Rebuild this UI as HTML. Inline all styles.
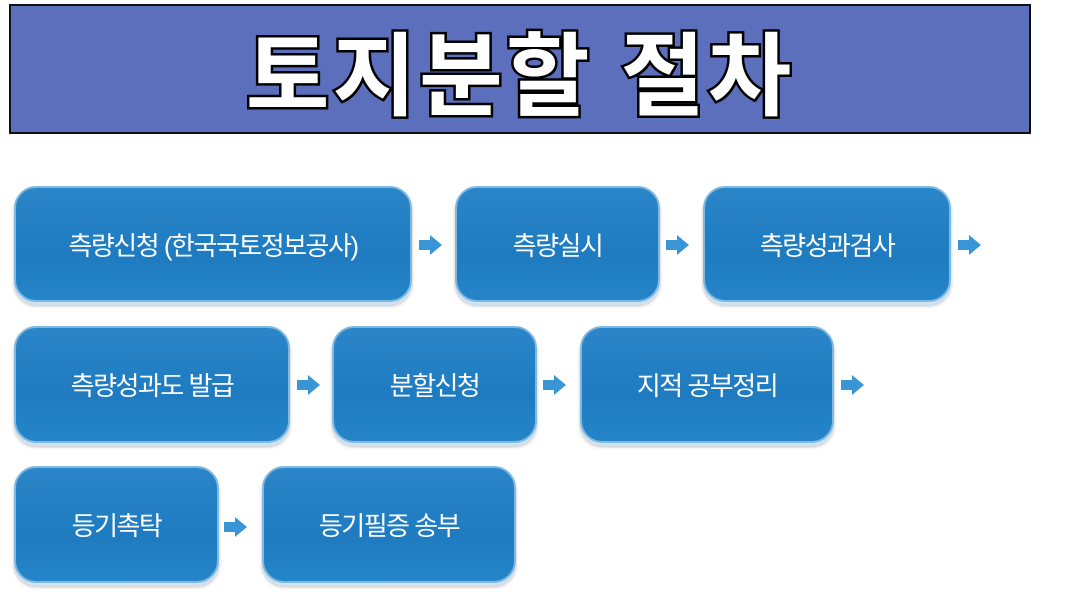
<!DOCTYPE html>
<html><head><meta charset="utf-8"><style>
body{margin:0;width:1080px;height:592px;background:#fff;position:relative;overflow:hidden;font-family:"Liberation Sans","Noto Sans CJK KR",sans-serif}
.title{position:absolute;left:9px;top:4px;width:1018px;height:126px;background:#5b6fbd;border:2px solid #111;}
.title span{position:absolute;left:0;right:0;top:-3px;text-align:center;font-size:91px;font-weight:bold;color:#fff;letter-spacing:3px;
-webkit-text-stroke:5px #000;paint-order:stroke fill;text-shadow:2px 2px 0 #000}
.b{position:absolute;box-sizing:border-box;border-radius:22px;background:linear-gradient(180deg,#2a86c8 0%,#1f7bc0 60%,#2585c8 100%);
border:2px solid #7fb9e2;box-shadow:0 3px 0 #cfe3f3, 0 4px 3px rgba(0,0,0,.25);color:#fff;font-size:26px;display:flex;align-items:center;justify-content:center;letter-spacing:-1.5px}
.a{position:absolute;width:0;height:0}
.a::before{content:"";position:absolute;left:0;top:-5px;width:12px;height:10px;background:#3a95d6}
.a::after{content:"";position:absolute;left:11px;top:-10px;border-left:12px solid #3a95d6;border-top:10px solid transparent;border-bottom:10px solid transparent}
</style></head><body>
<div class="title"><span>토지분할 절차</span></div>
<div class="b" style="left:14px;top:186px;width:398px;height:116px">측량신청 (한국국토정보공사)</div>
<div class="b" style="left:455px;top:186px;width:205px;height:116px">측량실시</div>
<div class="b" style="left:703px;top:186px;width:248px;height:116px">측량성과검사</div>
<div class="b" style="left:14px;top:326px;width:276px;height:117px">측량성과도 발급</div>
<div class="b" style="left:332px;top:326px;width:205px;height:117px">분할신청</div>
<div class="b" style="left:580px;top:326px;width:254px;height:117px">지적 공부정리</div>
<div class="b" style="left:14px;top:466px;width:205px;height:117px">등기촉탁</div>
<div class="b" style="left:262px;top:466px;width:254px;height:117px">등기필증 송부</div>
<div class="a" style="left:419px;top:245px"></div>
<div class="a" style="left:666px;top:245px"></div>
<div class="a" style="left:958px;top:245px"></div>
<div class="a" style="left:297px;top:385px"></div>
<div class="a" style="left:543px;top:385px"></div>
<div class="a" style="left:841px;top:385px"></div>
<div class="a" style="left:224px;top:527px"></div>
</body></html>
